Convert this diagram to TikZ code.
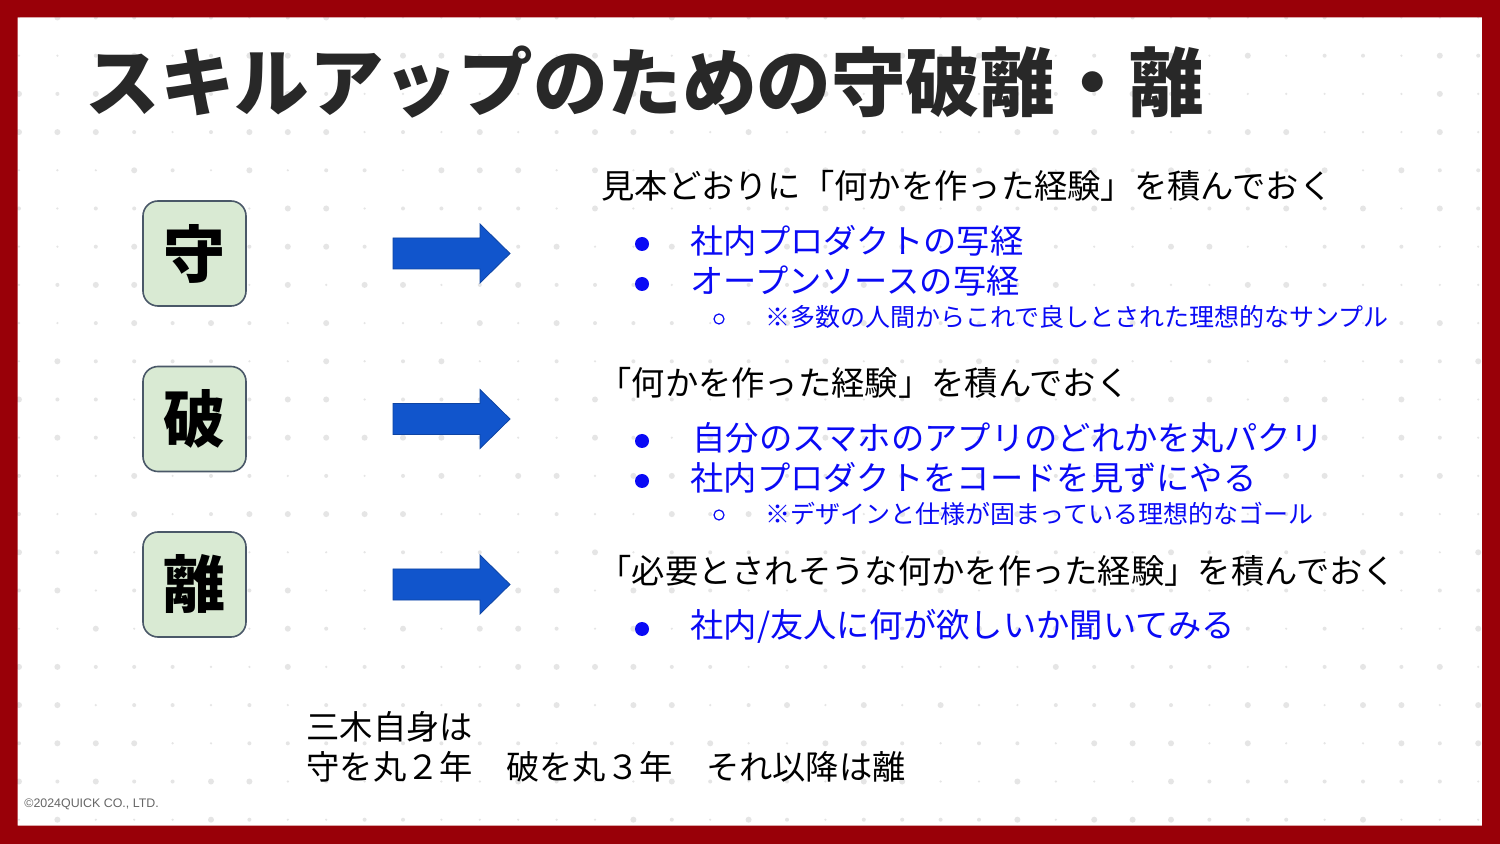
\documentclass[tikz,border=0pt]{standalone}
\usepackage{fontspec}
\setmainfont{Noto Sans CJK JP}
\newfontfamily\latinsans{Liberation Sans}
\usetikzlibrary{positioning}
\definecolor{framered}{HTML}{990008}
\definecolor{dotgray}{HTML}{E5E5E5}
\definecolor{boxgreen}{HTML}{D9EAD3}
\definecolor{boxline}{HTML}{4A5868}
\definecolor{arrowblue}{HTML}{1155CC}
\definecolor{itemblue}{HTML}{0A0AF5}
\definecolor{titlegray}{HTML}{282828}

\begin{document}
\begin{tikzpicture}[x=0.5pt,y=-0.5pt,
  kanjibox/.style={draw=boxline,line width=0.8pt,fill=boxgreen,rounded corners=7.5pt,
    minimum width=51.5pt,minimum height=52.5pt,inner sep=0pt,
    font=\fontsize{31}{31}\selectfont\bfseries},
  headline/.style={anchor=west,inner sep=0pt,font=\fontsize{16.65}{16.65}\selectfont},
  itemline/.style={headline,text=itemblue},
  noteline/.style={anchor=west,inner sep=0pt,text=itemblue,font=\fontsize{12.5}{12.5}\selectfont}]
  \useasboundingbox (0,0) rectangle (1500,844);
  \fill[white] (0,0) rectangle (1500,844);
  % dotted background
  \pgfmathsetseed{11}
  \foreach \i in {0,...,38}{
    \foreach \j in {0,...,21}{
      \pgfmathsetmacro\r{ifthenelse(rnd<0.3,3,ifthenelse(rnd<0.45,2,1.2))}
      \fill[dotgray] (19+38.4*\i,17.5+38.2*\j) circle[radius=\r];
    }
  }
  % title
  \node[anchor=west,inner sep=0pt,text=titlegray,font=\fontsize{37.3}{37.3}\selectfont\bfseries]
    (title) at (85,82) {スキルアップのための守破離・離};
  % 守 破 離
  \node[kanjibox] (mamori) at (194.5,253.5) {守};
  \node[kanjibox] (yaburi) at (194.5,419) {破};
  \node[kanjibox] (hanare) at (194.5,584.5) {離};
  \foreach \y in {253.5,419,584.5}
    \filldraw[fill=arrowblue,draw=arrowblue!80!black,line width=0.4pt]
      (393,\y-15.5) -- (480,\y-15.5) -- (480,\y-29.5) -- (510,\y)
      -- (480,\y+29.5) -- (480,\y+15.5) -- (393,\y+15.5) -- cycle;
  % 守
  \node[headline] (mamorihead) at (601,186) {見本どおりに「何かを作った経験」を積んでおく};
  \node[itemline] (mamori1) at (690,241) {社内プロダクトの写経};
  \node[itemline] (mamori2) at (690,281) {オープンソースの写経};
  \node[noteline] (mamorinote) at (765,317) {※多数の人間からこれで良しとされた理想的なサンプル};
  % 破
  \node[headline] (yaburihead) at (598,383) {「何かを作った経験」を積んでおく};
  \node[itemline] (yaburi1) at (692,438) {自分のスマホのアプリのどれかを丸パクリ};
  \node[itemline] (yaburi2) at (690,478) {社内プロダクトをコードを見ずにやる};
  \node[noteline] (yaburinote) at (765,514) {※デザインと仕様が固まっている理想的なゴール};
  % 離
  \node[headline] (hanarehead) at (598,571) {「必要とされそうな何かを作った経験」を積んでおく};
  \node[itemline] (hanare1) at (690,626) {社内/友人に何が欲しいか聞いてみる};
  % bullets
  \foreach \y in {244,284,441,481,629}
    \fill[itemblue] (642,\y) circle[radius=7];
  \foreach \y in {319,515}
    \draw[itemblue,line width=0.6pt] (719,\y) circle[radius=5];
  % summary
  \node[headline] (summary1) at (306,727) {三木自身は};
  \node[headline] (summary2) at (306,767) {守を丸２年　破を丸３年　それ以降は離};
  \node[anchor=west,inner sep=0pt,text=black!60,font=\latinsans\fontsize{6.2}{6.2}\selectfont]
    (copyright) at (24,804) {©2024QUICK CO., LTD.};
  % frame
  \fill[framered,even odd rule] (0,0) rectangle (1500,844) (17.5,17.5) rectangle (1482,825.5);
\end{tikzpicture}
\end{document}
